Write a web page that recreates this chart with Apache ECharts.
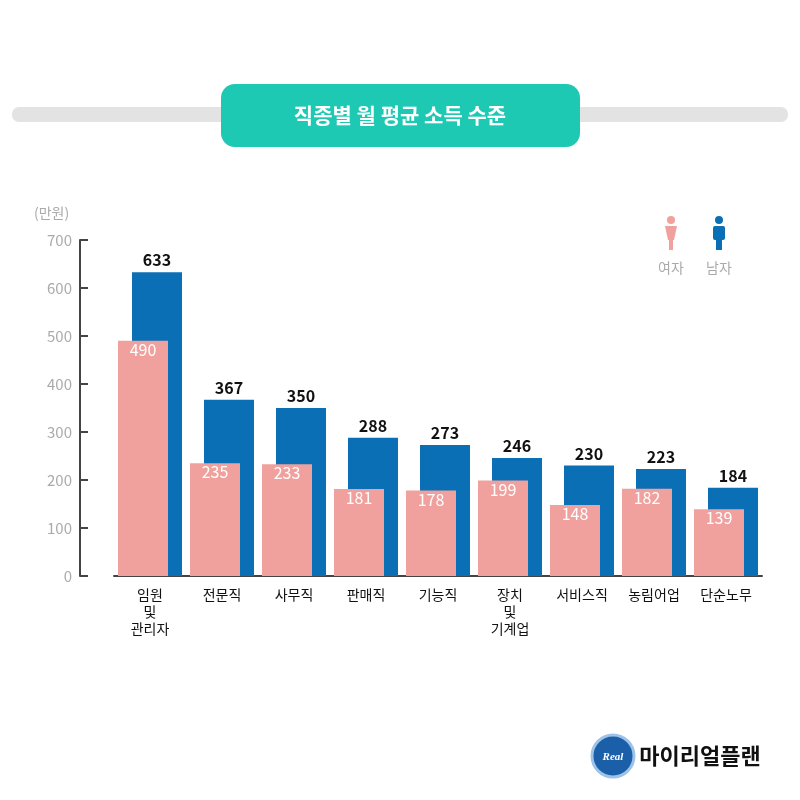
<!DOCTYPE html><html><head><meta charset="utf-8"><script src="https://cdn.jsdelivr.net/npm/echarts@6/dist/echarts.min.js"></script>
<style>body{margin:0}#c{width:800px;height:800px}</style></head><body><div id="c"></div><script>
const categories=['임원\n및\n관리자','전문직','사무직','판매직','기능직','장치\n및\n기계업','서비스직','농림어업','단순노무'];
const female=[490,235,233,181,178,199,148,182,139];
const male=[633,367,350,288,273,246,230,223,184];
const yTicks=[0,100,200,300,400,500,600,700];
const F='"Noto Sans CJK KR"';
const ch=echarts.init(document.getElementById('c'));
ch.setOption({
animation:false,
textStyle:{fontFamily:F},
grid:{left:114,right:38,top:240,bottom:224},
xAxis:{type:'category',data:categories,axisTick:{show:false},axisLine:{lineStyle:{color:'#444',width:2}},
 axisLabel:{color:'#111',fontSize:14,lineHeight:17,margin:10,fontFamily:F}},
yAxis:{type:'value',min:0,max:700,interval:100,offset:34,splitLine:{show:false},
 axisLine:{show:true,lineStyle:{color:'#444',width:2}},axisTick:{show:true,length:8,inside:true,lineStyle:{color:'#444',width:2}},
 axisLabel:{color:'#aaa',fontSize:15,margin:8,formatter:v=>yTicks.includes(v)?String(v):''}},
series:[
 {name:'여자',type:'bar',data:female,barWidth:50,barGap:'-72%',z:3,itemStyle:{color:'#f0a19d'},
  label:{show:true,position:'insideTop',color:'#fff',fontSize:16,offset:[0,-4]}},
 {name:'남자',type:'bar',data:male,barWidth:50,z:2,itemStyle:{color:'#0a6fb5'},
  label:{show:true,position:'top',color:'#111',fontSize:16,fontWeight:'bold',distance:4}}
],
graphic:[
 {type:'rect',shape:{x:12,y:107,width:776,height:15,r:7},style:{fill:'#e3e3e3'}},
 {type:'rect',shape:{x:221,y:84,width:359,height:63,r:14},style:{fill:'#1dc9b3'}},
 {type:'text',x:400,y:115,style:{text:'직종별 월 평균 소득 수준',fill:'#fff',font:'bold 21px '+F,align:'center',verticalAlign:'middle'}},
 {type:'text',x:34,y:213,style:{text:'(만원)',fill:'#aaa',font:'14px '+F,align:'left',verticalAlign:'middle'}},
 {type:'circle',shape:{cx:671,cy:220,r:4},style:{fill:'#f0a19d'}},
 {type:'polygon',shape:{points:[[665,226],[677,226],[674,240],[668,240]]},style:{fill:'#f0a19d'}},
 {type:'rect',shape:{x:669,y:238,width:4,height:12},style:{fill:'#f0a19d'}},
 {type:'circle',shape:{cx:719,cy:220,r:4},style:{fill:'#0a6fb5'}},
 {type:'rect',shape:{x:713,y:226,width:12,height:14,r:2},style:{fill:'#0a6fb5'}},
 {type:'rect',shape:{x:716,y:238,width:6,height:12},style:{fill:'#0a6fb5'}},
 {type:'text',x:671,y:268,style:{text:'여자',fill:'#aaa',font:'14px '+F,align:'center',verticalAlign:'middle'}},
 {type:'text',x:719,y:268,style:{text:'남자',fill:'#aaa',font:'14px '+F,align:'center',verticalAlign:'middle'}},
 {type:'circle',shape:{cx:613,cy:756,r:21},style:{fill:'#1a5fa8',stroke:'#9ec3e8',lineWidth:3}},
 {type:'text',x:613,y:757,style:{text:'Real',fill:'#fff',font:'bold italic 11px serif',align:'center',verticalAlign:'middle'}},
 {type:'text',x:700,y:756,style:{text:'마이리얼플랜',fill:'#111',font:'bold 22px '+F,align:'center',verticalAlign:'middle'}}
]});
</script></body></html>
